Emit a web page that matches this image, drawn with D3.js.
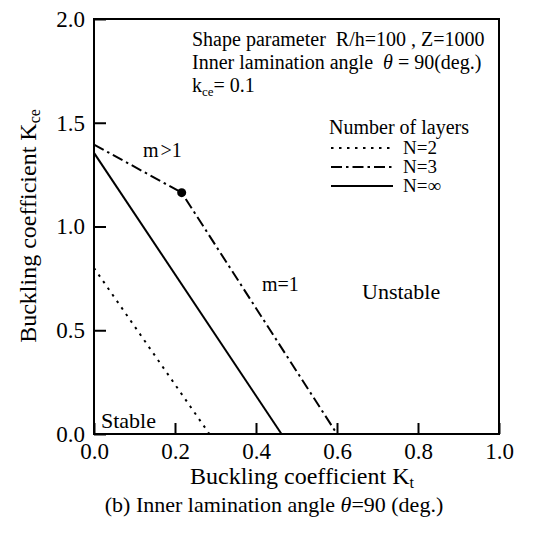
<!DOCTYPE html>
<html>
<head>
<meta charset="utf-8">
<script src="https://cdn.jsdelivr.net/npm/d3@7"></script>
<style>
  html, body { margin: 0; padding: 0; background: #fff; }
  svg { display: block; }
  text { font-family: "Liberation Serif", "Times New Roman", serif; fill: #000; }
</style>
</head>
<body>
<svg id="chart" width="535" height="535"></svg>
<script>
// ---- data ----
const xTicks = [0.0, 0.2, 0.4, 0.6, 0.8, 1.0];
const yTicks = [0.0, 0.5, 1.0, 1.5, 2.0];
const seriesNames = ["N=2", "N=3", "N=\u221E"];
const seriesN2 = [[0.0, 0.80], [0.285, 0.0]];
const seriesN3 = [[0.0, 1.395], [0.2165, 1.163], [0.60, 0.0]];
const seriesNinf = [[0.0, 1.355], [0.463, 0.0]];
const transitionPoint = [0.2165, 1.163];
const infoLines = ["Shape parameter  R/h=100 , Z=1000", "Inner lamination angle  \u03B8 = 90(deg.)"];

// ---- layout ----
const svg = d3.select("#chart");
const pL = 94, pR = 499, pT = 19, pB = 434;
const x = d3.scaleLinear().domain([0, 1]).range([pL, pR]);
const y = d3.scaleLinear().domain([0, 2]).range([pB, pT]);

// frame
svg.append("rect").attr("x", pL).attr("y", pT)
  .attr("width", pR - pL).attr("height", pB - pT)
  .attr("fill", "none").attr("stroke", "#000").attr("stroke-width", 2);

// axes
const xAxis = d3.axisBottom(x).tickValues(xTicks).tickSize(-11).tickPadding(9)
  .tickFormat(d3.format(".1f"));
const gx = svg.append("g").attr("transform", `translate(0,${pB})`).call(xAxis);
const yAxis = d3.axisLeft(y).tickValues(yTicks).tickSize(-12).tickPadding(9)
  .tickFormat(d3.format(".1f"));
const gy = svg.append("g").attr("transform", `translate(${pL},0)`).call(yAxis);
[gx, gy].forEach(g => {
  g.select(".domain").remove();
  g.selectAll(".tick line").attr("stroke", "#000").attr("stroke-width", 2);
  g.selectAll(".tick text").attr("font-family", "Liberation Serif").attr("font-size", 23).attr("fill", "#000");
});
gx.selectAll(".tick text").attr("dy", "0.71em");

// lines
const line = d3.line().x(d => x(d[0])).y(d => y(d[1]));
const styles = [
  { data: seriesN2, dash: "2.5,5.5" },
  { data: seriesN3, dash: "11,4,2.5,4" },
  { data: seriesNinf, dash: null }
];
styles.forEach(s => {
  svg.append("path").datum(s.data).attr("d", line)
    .attr("fill", "none").attr("stroke", "#000").attr("stroke-width", 2)
    .attr("stroke-dasharray", s.dash);
});
svg.append("circle").attr("cx", x(transitionPoint[0])).attr("cy", y(transitionPoint[1]))
  .attr("r", 4.5).attr("fill", "#000");

// info text
const info = svg.append("g").attr("font-size", 20);
infoLines.forEach((t, i) => {
  const tx = info.append("text").attr("x", 192).attr("y", 46 + i * 23).style("white-space", "pre");
  if (t.includes("\u03B8")) {
    const parts = t.split("\u03B8");
    tx.append("tspan").text(parts[0]);
    tx.append("tspan").attr("font-style", "italic").text("\u03B8");
    tx.append("tspan").text(parts[1]);
  } else tx.text(t);
});
const kt = info.append("text").attr("x", 192).attr("y", 92);
kt.append("tspan").text("k");
kt.append("tspan").attr("font-size", 13).attr("dy", 4).text("ce");
kt.append("tspan").attr("dy", -4).text("= 0.1");

// legend
const lg = svg.append("g").attr("font-size", 19);
lg.append("text").attr("x", 329).attr("y", 134).attr("font-size", 20).text("Number of layers");
styles.forEach((s, i) => {
  const yy = 148 + i * 19;
  lg.append("line").attr("x1", 331).attr("x2", 393).attr("y1", yy).attr("y2", yy)
    .attr("stroke", "#000").attr("stroke-width", 2).attr("stroke-dasharray", s.dash);
  lg.append("text").attr("x", 403).attr("y", yy + 6).text(seriesNames[i]);
});

// annotations
const mg = svg.append("text").attr("x", 143).attr("y", 157).attr("font-size", 20);
mg.append("tspan").text("m");
mg.append("tspan").attr("dx", 2).text(">1");
svg.append("text").attr("x", 262).attr("y", 291).attr("font-size", 20).text("m=1");
svg.append("text").attr("x", 362).attr("y", 299).attr("font-size", 22).text("Unstable");
svg.append("text").attr("x", 101).attr("y", 428).attr("font-size", 22).text("Stable");

// axis titles
const xt = svg.append("text").attr("x", 302).attr("y", 484).attr("text-anchor", "middle").attr("font-size", 24);
xt.append("tspan").text("Buckling coefficient K");
xt.append("tspan").attr("font-size", 16).attr("dy", 4).text("t");

const yt = svg.append("text").attr("transform", "translate(36,226) rotate(-90)")
  .attr("text-anchor", "middle").attr("font-size", 24);
yt.append("tspan").text("Buckling coefficient K");
yt.append("tspan").attr("font-size", 16).attr("dy", 4).text("ce");

// caption
const cap = svg.append("text").attr("x", 274).attr("y", 512).attr("text-anchor", "middle").attr("font-size", 22);
cap.append("tspan").text("(b) Inner lamination angle ");
cap.append("tspan").attr("font-style", "italic").text("\u03B8");
cap.append("tspan").text("=90 (deg.)");
</script>
</body>
</html>
